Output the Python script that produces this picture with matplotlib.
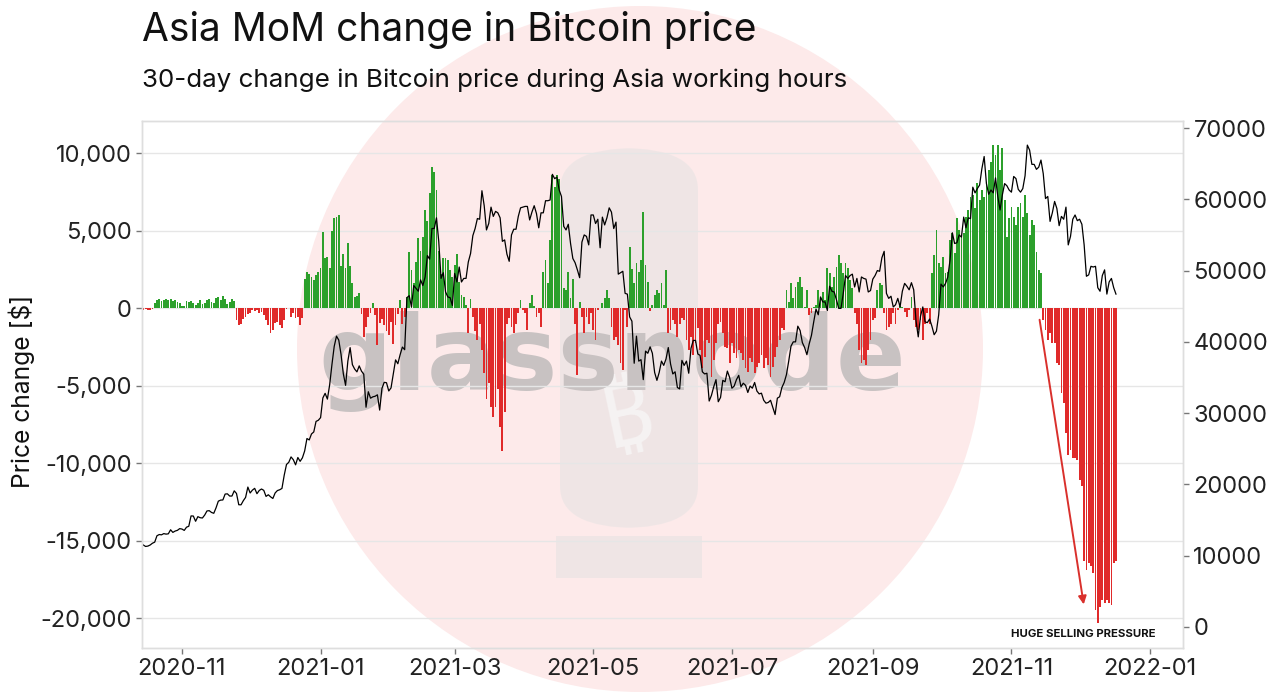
import numpy as np
import pandas as pd
import matplotlib
matplotlib.use("Agg")
from matplotlib import pyplot as plt
from matplotlib import dates as mdates
from matplotlib import ticker
from matplotlib.patches import Ellipse, FancyBboxPatch, Rectangle

#-------------------------
# data: daily values, 2020-10-15 .. 2021-12-17
#-------------------------
start_day = "2020-10-15"

# 30-day change in price during Asia working hours [$]
chg_oct20 = [-100, -80, -150, -120, -60, 300, 500, 550, 450, 500, 600, 500, 550, 450, 500, 400, 350]
chg_nov20 = [150, 100, 450, 400, 450, 300, 200, 350, 500, 250, 300, 500, 550, 400, 300, 650, 700, 500,
             750, 600, 250, 400, 550, 450, -800, -1100, -1050, -700, -600, -400]
chg_dec20 = [-300, -100, -200, -150, -300, -240, -450, -770, -1100, -1630, -1400, -990, -880, -1100, -1300,
             -800, -50, 0, -560, -350, -670, -560, -1100, -670, 1900, 2300, 2200, 2000, 1800, 2100, 2300]
chg_jan21 = [2600, 4900, 3200, 3300, 2600, 5000, 5800, 5900, 6000, 2700, 3500, 2600, 4200, 2700, 1600, 700,
             750, 950, -400, -1850, -1200, -560, -300, 300, -450, -2400, -990, -700, -1100, -1500, -1740]
chg_feb21 = [-900, -2300, -1100, -400, 500, -1000, -600, 730, 3600, 2450, 1600, 3000, 4500, 3700, 4600, 6300,
             5600, 7400, 9100, 8800, 7600, 3700, 2200, 3200, 3200, 3100, 2450, 2000]
chg_mar21 = [2800, 3500, 1700, 840, 730, 200, -1630, 600, -560, -1500, -2060, -1000, -2700, -4200, -5900,
             -4860, -6400, -7000, -6400, -5200, -7700, -9200, -6700, -1000, -670, -1200, -1630, -1000, -340,
             500, -130]
chg_apr21 = [-340, -1400, 300, 840, 100, -560, -340, -1200, 2340, 3100, 1600, 4400, 8600, 7800, 8600, 8300,
             7200, 1270, 1160, 2340, 620, 1900, -1000, -4300, 400, -560, -1630, -560, -1000, -340]
chg_may21 = [-1400, -2060, -130, 0, 300, 620, 1160, 620, -1200, -2060, -1850, -2400, -3570, -4000, -130,
             -1200, 3960, 2500, 1600, 2900, 2340, 3100, 6200, 2770, 1700, -200, 200, 840, 1160, 950, 1600]
chg_jun21 = [200, 2450, -1630, -1400, -770, -1000, -1850, -1000, -670, -770, -2060, -2700, -1850, -3000,
             -2280, -1300, -2700, -3900, -3140, -2060, -2280, -4430, -3350, -2280, -1000, -880, -1630, -2500,
             -2600, -3570]
chg_jul21 = [-2280, -2920, -3250, -2700, -2920, -3350, -3900, -4100, -3250, -3460, -4200, -3800, -3570,
             -3000, -3900, -3250, -3680, -4430, -3800, -3140, -2500, -2060, -1300, -1400, 1160, 400, 1600,
             620, 1380, 1700, 2020]
chg_aug21 = [1380, 80, 1160, -450, -340, 50, 200, 1160, 730, 1050, 520, 2560, 2240, 1380, 2020, 2670, 3420,
             2880, 2240, 2880, 2560, 1800, 1270, -300, -1000, -2700, -3570, -3350, -3680, -2700, -2060]
chg_sep21 = [-770, -670, 1160, 1600, 1500, -300, -1420, -1200, -1000, -340, -1000, -130, 100, 50, -240,
             -560, -130, 730, -770, -1200, -1420, -770, -2060, -1000, -340, -1000, 2240, 3420, 5030, 2880]
chg_oct21 = [2670, 3310, 2240, 2340, 4390, 4820, 3530, 5780, 5030, 4600, 4820, 5890, 6320, 7180, 7290, 6430,
             8040, 6970, 7610, 7180, 8150, 8900, 9440, 10510, 9870, 10510, 8900, 10300, 6970, 4600, 5780]
chg_nov21 = [6540, 5890, 5350, 6540, 6750, 5890, 7290, 6110, 4710, 5680, 5350, 3630, 2450, 2240, -770,
             -1420, -2060, -1630, -2280, -2280, -3570, -3680, -5500, -6150, -8080, -9480, -9160, -9700,
             -9700, -9800]
chg_dec21 = [-11100, -11500, -16340, -16880, -16450, -16660, -17100, -19480, -20340, -19260, -18830, -19050,
             -18830, -19050, -19150, -16450, -16340]

# Bitcoin price [$ thousands]
px_oct20 = [11.5, 11.3, 11.35, 11.5, 11.75, 11.9, 12.8, 12.97, 12.93, 13.1, 13.03, 13.07, 13.64, 13.27,
            13.46, 13.56, 13.8]
px_nov20 = [13.74, 13.55, 14.0, 14.13, 15.58, 15.57, 14.83, 15.48, 15.33, 15.29, 15.7, 16.28, 16.32, 16.07,
            15.95, 16.72, 17.65, 17.8, 17.82, 18.65, 18.68, 18.37, 18.37, 19.1, 18.73, 17.15, 17.14, 17.72,
            18.18, 19.63]
px_dec20 = [18.8, 19.2, 19.45, 18.7, 19.15, 19.36, 19.17, 18.32, 18.55, 18.26, 18.03, 18.8, 19.14, 19.25,
            19.44, 21.3, 22.8, 23.1, 23.86, 23.47, 22.75, 23.78, 23.24, 23.73, 24.7, 26.44, 26.24, 27.08,
            27.36, 28.84, 29.0]
px_jan21 = [29.37, 32.13, 32.78, 31.97, 33.99, 36.82, 39.37, 40.8, 40.25, 38.24, 35.54, 33.9, 37.3, 39.19,
            36.8, 36.18, 35.79, 36.63, 35.89, 35.47, 30.83, 33.0, 32.1, 32.29, 32.37, 32.57, 30.43, 33.47,
            34.32, 34.27, 33.11]
px_feb21 = [33.54, 35.51, 37.47, 36.93, 38.2, 39.27, 38.9, 46.2, 46.48, 44.9, 47.9, 47.5, 47.1, 48.7, 47.9,
            49.1, 52.1, 51.6, 55.9, 55.9, 57.4, 54.1, 48.9, 49.7, 47.0, 46.3, 46.2, 45.1]
px_mar21 = [49.6, 48.4, 50.5, 48.4, 48.9, 48.9, 51.2, 52.4, 54.9, 55.9, 57.3, 57.2, 61.2, 59.1, 55.7, 56.6,
            58.9, 57.6, 58.3, 58.1, 57.4, 54.1, 54.3, 52.3, 51.3, 55.0, 55.8, 55.8, 57.6, 58.8, 58.9]
px_apr21 = [59.0, 59.0, 57.1, 58.2, 59.1, 58.0, 56.0, 58.1, 58.1, 59.8, 59.8, 59.9, 63.5, 62.9, 63.1, 61.3,
            60.4, 56.2, 55.7, 56.5, 53.8, 51.7, 51.1, 50.1, 49.0, 54.0, 55.0, 54.8, 53.6, 57.8]
px_may21 = [57.8, 56.6, 57.2, 53.2, 57.5, 56.4, 57.4, 58.8, 58.2, 55.9, 56.8, 49.5, 49.7, 49.9, 46.8, 46.7,
            43.5, 42.9, 37.0, 40.8, 37.3, 37.5, 34.7, 38.7, 38.4, 39.3, 38.4, 35.7, 34.6, 35.7, 37.3]
px_jun21 = [36.7, 37.6, 39.2, 36.9, 35.5, 35.8, 33.6, 33.4, 37.4, 36.7, 37.3, 35.6, 39.1, 40.2, 40.2, 38.3,
            38.1, 35.8, 35.5, 35.6, 31.7, 32.5, 33.7, 34.7, 31.6, 32.2, 34.6, 34.4, 35.9, 35.0]
px_jul21 = [33.5, 33.8, 34.7, 35.3, 33.7, 34.2, 33.9, 32.9, 33.8, 33.5, 34.3, 33.1, 32.7, 32.8, 31.8, 31.4,
            31.5, 31.8, 30.8, 29.8, 32.1, 32.3, 33.6, 34.3, 35.4, 37.3, 39.4, 40.0, 40.0, 42.2, 41.6]
px_aug21 = [39.9, 39.2, 38.2, 39.7, 40.9, 42.8, 44.6, 43.8, 46.3, 45.6, 45.6, 44.4, 47.8, 47.1, 47.0, 45.9,
            44.7, 44.7, 46.8, 49.3, 48.9, 49.3, 49.5, 47.7, 48.9, 47.0, 49.1, 48.9, 48.8, 47.0, 47.2]
px_sep21 = [48.8, 49.3, 50.0, 49.9, 51.8, 52.7, 46.8, 46.1, 46.4, 44.9, 45.2, 46.1, 44.9, 47.1, 48.2, 47.8,
            47.3, 48.3, 47.3, 43.0, 40.7, 43.6, 44.9, 42.8, 42.7, 43.2, 42.2, 41.0, 41.5, 43.8]
px_oct21 = [48.1, 47.7, 48.2, 49.1, 51.5, 55.3, 53.8, 53.9, 55.0, 54.7, 57.5, 56.0, 57.4, 57.3, 61.7, 60.9,
            61.5, 62.0, 64.3, 66.0, 62.2, 60.7, 61.3, 60.9, 63.0, 60.4, 58.5, 60.6, 62.2, 61.9, 61.3]
px_nov21 = [61.0, 63.2, 62.9, 61.4, 61.0, 61.5, 63.3, 67.6, 66.9, 64.9, 64.9, 64.2, 64.5, 65.5, 63.6, 60.1,
            60.4, 56.9, 58.1, 59.7, 58.7, 56.3, 57.6, 57.2, 58.9, 53.6, 54.8, 57.2, 57.8, 57.0]
px_dec21 = [57.2, 56.5, 53.6, 49.2, 49.4, 50.6, 50.5, 50.6, 47.6, 47.1, 49.3, 50.1, 46.7, 48.4, 48.9, 47.6,
            46.7]

change = np.array(chg_oct20 + chg_nov20 + chg_dec20 + chg_jan21 + chg_feb21 + chg_mar21 + chg_apr21 +
                  chg_may21 + chg_jun21 + chg_jul21 + chg_aug21 + chg_sep21 + chg_oct21 + chg_nov21 +
                  chg_dec21, dtype=float)
price = np.array(px_oct20 + px_nov20 + px_dec20 + px_jan21 + px_feb21 + px_mar21 + px_apr21 + px_may21 +
                 px_jun21 + px_jul21 + px_aug21 + px_sep21 + px_oct21 + px_nov21 + px_dec21) * 1000
days = pd.date_range(start_day, periods=len(change), freq="D")

title = "Asia MoM change in Bitcoin price"
subtitle = "30-day change in Bitcoin price during Asia working hours"
note = "HUGE SELLING PRESSURE"
arrow_from = (pd.Timestamp("2021-11-13 05:00"), -580)
arrow_to = (pd.Timestamp("2021-12-03 00:00"), -19300)
note_at = (pd.Timestamp("2021-12-02 16:00"), -21060)

#-------------------------
# figure
#-------------------------
plt.rcParams['font.family'] = ['Inter', 'DejaVu Sans']
W, H = 1277, 695
fig = plt.figure(figsize=(W / 100, H / 100), dpi=100)
fig.patch.set_facecolor('white')

# glassnode watermark (behind everything)
fig.add_artist(Ellipse((640 / W, 1 - 349 / H), 2 * 343 / W, 2 * 343 / H, transform=fig.transFigure,
                       facecolor='#fdeaea', edgecolor='none', zorder=-5))
fig.add_artist(FancyBboxPatch((560 / W, 1 - 528 / H), 138 / W, 380 / H,
                              boxstyle="round,pad=0,rounding_size=0.06", transform=fig.transFigure,
                              facecolor='#e2e2e2', edgecolor='none', alpha=0.5, zorder=-4))
fig.add_artist(Rectangle((556 / W, 1 - 578 / H), 146 / W, 42 / H, transform=fig.transFigure,
                         facecolor='#e2e2e2', edgecolor='none', alpha=0.5, zorder=-4))
fig.text(628 / W, 1 - 420 / H, "\u20bf", fontsize=64, fontweight='bold', color='#f6f3f3', rotation=12,
         ha='center', va='center', zorder=-3,
         family=['Noto Sans', 'Roboto', 'Open Sans', 'Lato', 'Inter', 'DejaVu Sans'])
fig.text(612 / W, 1 - 362 / H, "glassnode", fontsize=74, fontweight='bold', color='#c8c2c2',
         ha='center', va='center', zorder=-3, family=['DejaVu Sans'])

ax = fig.add_axes([142 / W, 1 - 648 / H, 1041 / W, 527 / H])
ax.set_facecolor('none')
ax.set_zorder(1)

colors = np.where(change >= 0, '#2ca02c', '#e02a2a')
ax.bar(days, change, width=0.8, color=colors, linewidth=0, zorder=2)

ax.set_ylim(-21935, 12065)
ax.set_yticks([-20000, -15000, -10000, -5000, 0, 5000, 10000])
ax.yaxis.set_major_formatter(ticker.FuncFormatter(lambda v, p: f"{v:,.0f}"))
ax.grid(axis='y', color='#e6e6e6', linewidth=1)
ax.set_axisbelow(True)

ax.set_xlim(pd.Timestamp("2020-10-14 10:00"), pd.Timestamp("2022-01-15 12:00"))
ax.xaxis.set_major_locator(mdates.MonthLocator(bymonth=[1, 3, 5, 7, 9, 11]))
ax.xaxis.set_major_formatter(mdates.DateFormatter('%Y-%m'))

ax2 = ax.twinx()
ax2.plot(days, price, color='black', linewidth=0.9)
ax2.set_ylim(-2946, 70982)
ax2.set_yticks(range(0, 70001, 10000))

for a in (ax, ax2):
    for s in a.spines.values():
        s.set_color('#dedede')
        s.set_linewidth(1)
    a.tick_params(labelsize=17, length=4, width=1, color='#777777', labelcolor='#222222')

ax.annotate('', xy=arrow_to, xytext=arrow_from,
            arrowprops=dict(arrowstyle='-|>', color='#d9302c', lw=1.4, mutation_scale=12))
ax.text(note_at[0], note_at[1], note, fontsize=8.2, fontweight='bold', ha='center', va='center',
        color='#111111', zorder=5)

fig.text(142 / W, 1 - 41 / H, title, fontsize=28, color='#111111', ha='left', va='baseline')
fig.text(142 / W, 1 - 87 / H, subtitle, fontsize=18.7, color='#111111', ha='left', va='baseline')
fig.text(22 / W, 1 - 391 / H, "Price change [$]", fontsize=17.7, rotation=90, ha='center', va='center',
         color='#111111')

plt.savefig('out.png', dpi=100)
